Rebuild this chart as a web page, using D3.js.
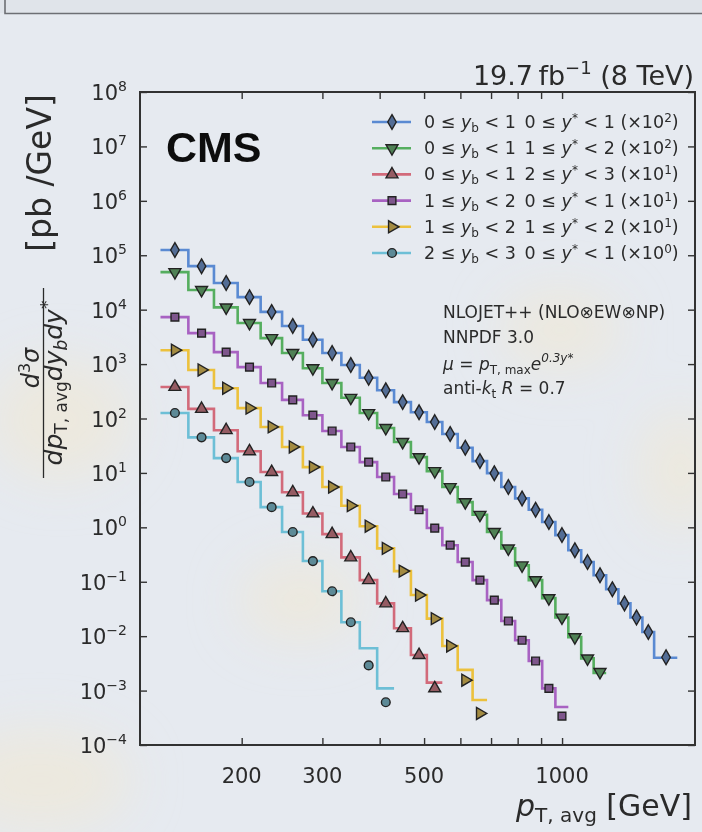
<!DOCTYPE html>
<html>
<head>
<meta charset="utf-8">
<script src="https://cdn.jsdelivr.net/npm/d3@7"></script>
<style>
  body { margin: 0; background: #e7ebf1; }
  svg { display: block; }
  text { font-family: "DejaVu Sans", sans-serif; fill: #2b2b2b; }
</style>
</head>
<body>
<div id="chart"></div>
<script>
// pT,avg bin edges (GeV)
const binEdges = [133,153,174,196,220,245,272,300,330,362,395,430,468,507,548,592,638,686,737,790,846,905,967,1032,1101,1172,1248,1327,1410,1497,1588,1784];

// plotted values (scale factor already applied), data points and theory steps
const blueData   = [1.25e5,6.3e4,3.1e4,1.7e4,9.1e3,5.0e3,2.8e3,1.6e3,9.6e2,5.6e2,3.3e2,2.0e2,1.3e2,86,52,29,16.5,9.9,5.5,3.4,2.1,1.25,0.72,0.38,0.23,0.132,0.073,0.040,0.022,0.0119,0.0041];
const blueTheory = [1.25e5,6.3e4,3.1e4,1.7e4,9.1e3,5.0e3,2.8e3,1.6e3,9.6e2,5.6e2,3.3e2,2.0e2,1.3e2,86,52,29,16.5,9.9,5.5,3.4,2.1,1.25,0.72,0.38,0.23,0.132,0.073,0.040,0.022,0.0119,0.0040];
const greenData   = [4.9e4,2.3e4,1.1e4,5.7e3,3.0e3,1.6e3,8.4e2,4.5e2,2.4e2,1.26e2,67,37,19.5,10.8,5.5,2.9,1.7,0.82,0.41,0.20,0.107,0.050,0.022,0.0096,0.0039,0.0022];
const greenTheory = [4.9e4,2.3e4,1.1e4,5.7e3,3.0e3,1.6e3,8.4e2,4.5e2,2.4e2,1.26e2,67,37,19.5,10.8,5.5,2.9,1.7,0.82,0.41,0.20,0.107,0.050,0.022,0.0096,0.0039,0.0021];
const redData   = [3.8e2,1.5e2,61,25,10.4,4.4,1.8,0.75,0.28,0.107,0.040,0.014,0.0045,0.0011];
const redTheory = [3.8e2,1.5e2,61,25,10.4,4.4,1.8,0.75,0.28,0.107,0.040,0.014,0.0045,0.0014];
const purpleData   = [7.3e3,3.7e3,1.66e3,8.8e2,4.5e2,2.2e2,1.15e2,59,30,15.8,8.4,4.1,2.1,0.97,0.47,0.23,0.107,0.046,0.019,0.0084,0.0035,0.0011,3.4e-4];
const purpleTheory = [7.3e3,3.7e3,1.66e3,8.8e2,4.5e2,2.2e2,1.15e2,59,30,15.8,8.4,4.1,2.1,0.97,0.47,0.23,0.107,0.046,0.019,0.0084,0.0035,0.0011,5.0e-4];
const yellowData   = [1.8e3,7.8e2,3.6e2,1.55e2,70,30,12.8,5.5,2.5,1.05,0.41,0.157,0.057,0.021,0.0066,0.00155,3.8e-4];
const yellowTheory = [1.8e3,7.8e2,3.6e2,1.55e2,70,30,12.8,5.5,2.5,1.05,0.41,0.157,0.057,0.021,0.0066,0.0024,6.7e-4];
const cyanData   = [1.26e2,45,18.7,6.8,2.35,0.82,0.24,0.067,0.018,0.0029,6.1e-4];
const cyanTheory = [1.26e2,45,18.7,6.8,2.35,0.82,0.24,0.067,0.018,0.0060,0.0011];

// legend pieces
const ybLo = [0,0,0,1,1,2], ybHi = [1,1,1,2,2,3];
const ysLo = [0,1,2,0,1,0], ysHi = [1,2,3,1,2,1];
const scaleExp = [2,2,1,1,1,0];

const yTicks = [1e-4,1e-3,1e-2,1e-1,1,1e1,1e2,1e3,1e4,1e5,1e6,1e7,1e8];
const xTicks = [200,300,400,500,600,700,800,900,1000];
const xTickLabels = [200,300,500,1000];

const series = [
  {data: blueData,   theory: blueTheory,   color: "#5a8ad2", shape: "diamond"},
  {data: greenData,  theory: greenTheory,  color: "#55ae5e", shape: "tdown"},
  {data: redData,    theory: redTheory,    color: "#d26a7a", shape: "tup"},
  {data: purpleData, theory: purpleTheory, color: "#a862c2", shape: "square"},
  {data: yellowData, theory: yellowTheory, color: "#ecc13c", shape: "tright"},
  {data: cyanData,   theory: cyanTheory,   color: "#6dbfd6", shape: "circle"}
];

const W = 702, H = 832;
const plot = {left: 140, right: 695, top: 92, bottom: 745};

const svg = d3.select("#chart").append("svg").attr("width", W).attr("height", H);

const defs = svg.append("defs");
defs.append("filter").attr("id", "soft")
  .append("feGaussianBlur").attr("stdDeviation", 0.45);
defs.append("filter").attr("id", "blob")
  .append("feGaussianBlur").attr("stdDeviation", 25);

// photographed slide background
svg.append("rect").attr("width", W).attr("height", H).attr("fill", "#e6eaf0");
const blobs = [[60, 420, 70, 60], [300, 600, 60, 40], [680, 470, 40, 60], [560, 330, 60, 40], [40, 780, 90, 50]];
svg.append("g").attr("filter", "url(#blob)").selectAll("ellipse").data(blobs).join("ellipse")
  .attr("cx", d => d[0]).attr("cy", d => d[1]).attr("rx", d => d[2]).attr("ry", d => d[3])
  .attr("fill", "#eee8da").attr("opacity", 0.8);
svg.append("rect").attr("width", W).attr("height", 13).attr("fill", "#e0e4ea");
svg.append("path").attr("d", "M5,0V13.5H702").attr("fill", "none").attr("stroke", "#6d6f74").attr("stroke-width", 1.6);

const g = svg.append("g").attr("filter", "url(#soft)");

const x = d3.scaleLog().domain([120, 1950]).range([plot.left, plot.right]);
const y = d3.scaleLog().domain([1e-4, 1e8]).range([plot.bottom, plot.top]);

// ticks on all four sides, pointing inward
g.append("g").attr("transform", `translate(${plot.left},0)`)
  .call(d3.axisLeft(y).tickValues(yTicks).tickSize(-7).tickFormat(""));
g.append("g").attr("transform", `translate(${plot.right},0)`)
  .call(d3.axisRight(y).tickValues(yTicks).tickSize(-7).tickFormat(""));
g.append("g").attr("transform", `translate(0,${plot.bottom})`)
  .call(d3.axisBottom(x).tickValues(xTicks).tickSize(-7).tickFormat(""));
g.append("g").attr("transform", `translate(0,${plot.top})`)
  .call(d3.axisTop(x).tickValues(xTicks).tickSize(-7).tickFormat(""));
g.selectAll(".domain").remove();
g.selectAll(".tick line").attr("stroke", "#333").attr("stroke-width", 1.4);

g.append("rect")
  .attr("x", plot.left).attr("y", plot.top)
  .attr("width", plot.right - plot.left).attr("height", plot.bottom - plot.top)
  .attr("fill", "none").attr("stroke", "#333").attr("stroke-width", 2);

// y tick labels 10^n
yTicks.forEach(v => {
  const e = Math.round(Math.log10(v));
  const t = g.append("text").attr("x", 127).attr("y", y(v) + 8)
    .attr("text-anchor", "end").style("font-size", "21px");
  t.append("tspan").text("10");
  t.append("tspan").attr("dy", -9).style("font-size", "14px").text(e < 0 ? "\u2212" + (-e) : e);
});

// x tick labels
g.selectAll(".xlab").data(xTickLabels).join("text")
  .attr("x", d => x(d)).attr("y", 783)
  .attr("text-anchor", "middle").style("font-size", "21px")
  .text(d => d);

// step lines (theory) and markers (data)
const mid = i => (binEdges[i] + binEdges[i + 1]) / 2;
const stepLine = d3.line().x(d => x(d[0])).y(d => y(d[1])).curve(d3.curveStepAfter);

function symbolFor(shape) {
  const size = {diamond: 62, tdown: 62, tup: 62, tright: 62, square: 60, circle: 60}[shape];
  const type = {diamond: d3.symbolDiamond, tdown: d3.symbolTriangle, tup: d3.symbolTriangle,
                tright: d3.symbolTriangle, square: d3.symbolSquare, circle: d3.symbolCircle}[shape];
  const rot = {tdown: 180, tright: 90}[shape] || 0;
  return {path: d3.symbol().type(type).size(size)(), rot: rot};
}
// markers look darker than the lines in the photo
const markerFill = c => d3.interpolateRgb(c, "#4a4a4a")(0.45);

series.forEach(s => {
  const pts = s.theory.map((v, i) => [binEdges[i], v]);
  pts.push([binEdges[s.theory.length], s.theory[s.theory.length - 1]]);
  g.append("path").attr("d", stepLine(pts))
    .attr("fill", "none").attr("stroke", s.color).attr("stroke-width", 2.6);
});

series.forEach(s => {
  const sym = symbolFor(s.shape);
  g.append("g").selectAll("path").data(s.data).join("path")
    .attr("d", sym.path)
    .attr("transform", (d, i) => `translate(${x(mid(i))},${y(d)}) rotate(${sym.rot})`)
    .attr("fill", markerFill(s.color)).attr("stroke", "#222").attr("stroke-width", 1.4);
});

// legend
series.forEach((s, i) => {
  const cy = 122 + i * 26.2;
  g.append("line").attr("x1", 372).attr("x2", 411).attr("y1", cy).attr("y2", cy)
    .attr("stroke", s.color).attr("stroke-width", 2.6);
  const sym = symbolFor(s.shape);
  g.append("path").attr("d", sym.path)
    .attr("transform", `translate(392,${cy}) rotate(${sym.rot})`)
    .attr("fill", markerFill(s.color)).attr("stroke", "#222").attr("stroke-width", 1.4);
  const t = g.append("text").attr("x", 424).attr("y", cy + 6).style("font-size", "17.5px");
  t.append("tspan").text(`${ybLo[i]} \u2264 `);
  t.append("tspan").style("font-style", "italic").text("y");
  t.append("tspan").attr("dy", 4).style("font-size", "12px").text("b");
  t.append("tspan").attr("dy", -4).text(` < ${ybHi[i]}\u2002${ysLo[i]} \u2264 `);
  t.append("tspan").style("font-style", "italic").text("y");
  t.append("tspan").attr("dy", -6).style("font-size", "12px").text("*");
  t.append("tspan").attr("dy", 6).text(` < ${ysHi[i]} (\u00d710`);
  t.append("tspan").attr("dy", -6).style("font-size", "12px").text(scaleExp[i]);
  t.append("tspan").attr("dy", 6).text(")");
});

// theory description
const info = g.append("g").style("font-size", "17px");
info.append("text").attr("x", 443).attr("y", 318).text("NLOJET++ (NLO\u2297EW\u2297NP)");
info.append("text").attr("x", 443).attr("y", 343).text("NNPDF 3.0");
const mu = info.append("text").attr("x", 443).attr("y", 370);
mu.append("tspan").style("font-style", "italic").text("\u03bc");
mu.append("tspan").text(" = ");
mu.append("tspan").style("font-style", "italic").text("p");
mu.append("tspan").attr("dy", 4).style("font-size", "12px").text("T, max");
mu.append("tspan").attr("dy", -4).style("font-style", "italic").text("e");
mu.append("tspan").attr("dy", -8).style("font-size", "12px").style("font-style", "italic").text("0.3y*");
const kt = info.append("text").attr("x", 443).attr("y", 394);
kt.append("tspan").text("anti-");
kt.append("tspan").style("font-style", "italic").text("k");
kt.append("tspan").attr("dy", 4).style("font-size", "12px").text("t");
kt.append("tspan").attr("dy", -4).style("font-style", "italic").text(" R");
kt.append("tspan").text(" = 0.7");

// CMS label and luminosity
g.append("text").attr("x", 166).attr("y", 162)
  .style("font-family", "'Liberation Sans', Arial, sans-serif")
  .style("font-weight", "bold").style("font-size", "43px").style("fill", "#111")
  .text("CMS");
const lumi = g.append("text").attr("x", 694).attr("y", 85)
  .attr("text-anchor", "end").style("font-size", "27px");
lumi.append("tspan").text("19.7\u2009fb");
lumi.append("tspan").attr("dy", -11).style("font-size", "18px").text("\u22121");
lumi.append("tspan").attr("dy", 11).text(" (8 TeV)");

// x axis title
const xt = g.append("text").attr("x", 692).attr("y", 816)
  .attr("text-anchor", "end").style("font-size", "30px");
xt.append("tspan").style("font-style", "italic").text("p");
xt.append("tspan").attr("dy", 6).style("font-size", "20px").text("T, avg");
xt.append("tspan").attr("dy", -6).text(" [GeV]");

// y axis title (fraction + unit), rotated
g.append("text").attr("transform", "translate(51,173) rotate(-90)")
  .attr("text-anchor", "middle").style("font-size", "33px").text("[pb /GeV]");
const num = g.append("text").attr("transform", "translate(39,368) rotate(-90)")
  .attr("text-anchor", "middle").style("font-size", "24px");
num.append("tspan").style("font-style", "italic").text("d");
num.append("tspan").attr("dy", -9).style("font-size", "16px").text("3");
num.append("tspan").attr("dy", 9).style("font-style", "italic").text("\u03c3");
g.append("line").attr("x1", 43.5).attr("x2", 43.5).attr("y1", 288).attr("y2", 478)
  .attr("stroke", "#2b2b2b").attr("stroke-width", 1.3);
const den = g.append("text").attr("transform", "translate(62,383) rotate(-90)")
  .attr("text-anchor", "middle").style("font-size", "25px");
den.append("tspan").style("font-style", "italic").text("dp");
den.append("tspan").attr("dy", 5).style("font-size", "17px").text("T, avg");
den.append("tspan").attr("dy", -5).style("font-style", "italic").text("dy");
den.append("tspan").attr("dy", 5).style("font-size", "17px").style("font-style", "italic").text("b");
den.append("tspan").attr("dy", -5).style("font-style", "italic").text("dy");
den.append("tspan").attr("dy", -9).style("font-size", "17px").text("*");
</script>
</body>
</html>
